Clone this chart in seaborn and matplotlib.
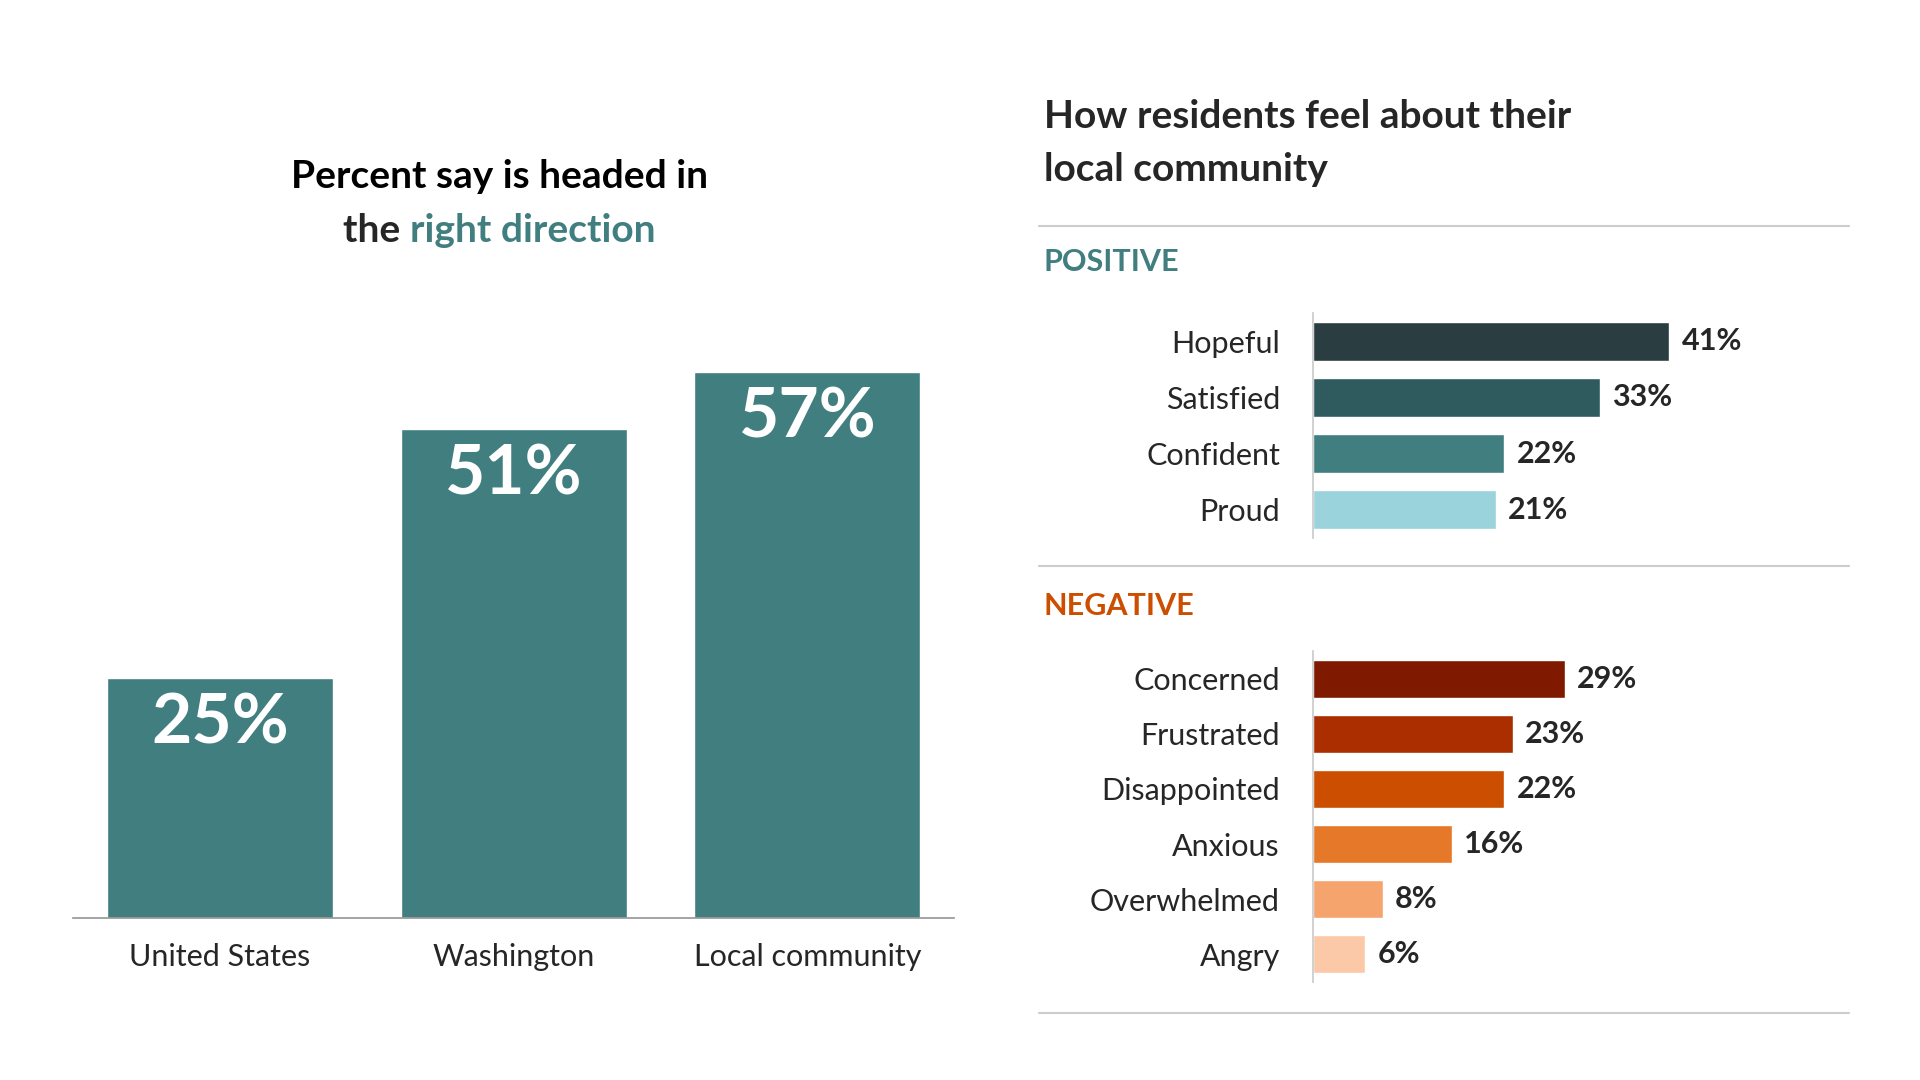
import matplotlib
matplotlib.use("Agg")
import matplotlib.pyplot as plt
import seaborn as sns

left_cats = ["United States", "Washington", "Local community"]
left_vals = [25, 51, 57]

pos_cats = ["Hopeful", "Satisfied", "Confident", "Proud"]
pos_vals = [41, 33, 22, 21]
pos_cols = ["#2a3d41", "#2f5b5f", "#417e80", "#9ad3db"]

neg_cats = ["Concerned", "Frustrated", "Disappointed", "Anxious", "Overwhelmed", "Angry"]
neg_vals = [29, 23, 22, 16, 8, 6]
neg_cols = ["#7f1a00", "#aa2e00", "#cc4e00", "#e6782a", "#f6a46e", "#fbc9a8"]

sns.set_theme(style="white")
plt.rcParams['font.family'] = ['Lato', 'DejaVu Sans']
TEAL = "#417e80"

fig = plt.figure(figsize=(19.2, 10.8), dpi=100)

# left chart
ax = fig.add_axes([0.038, 0.15, 0.459, 0.55])
sns.barplot(x=left_cats, y=left_vals, color=TEAL, width=0.77, saturation=1, ax=ax)
ax.set_ylim(0, 62)
ax.set_xlim(-0.5, 2.5)
for i, v in enumerate(left_vals):
    ax.text(i, v - 1.5, f"{v}%", ha="center", va="top", color="white",
            fontsize=50, fontweight="bold")
for s in ["top", "right", "left"]:
    ax.spines[s].set_visible(False)
ax.spines["bottom"].set_color("#999999")
ax.set_yticks([])
ax.tick_params(axis="x", labelsize=22, pad=18, length=0)

fig.text(0.26, 0.837, "Percent say is headed in", ha="center", va="center",
         fontsize=28, fontweight="bold", color="black")
t1 = fig.text(0.26, 0.787, "the ", ha="left", va="center", fontsize=28, fontweight="bold")
t2 = fig.text(0.26, 0.787, "right direction", ha="left", va="center", fontsize=28,
              fontweight="bold", color=TEAL)
fig.canvas.draw()
r = fig.canvas.get_renderer()
w1 = t1.get_window_extent(r).width / fig.bbox.width
w2 = t2.get_window_extent(r).width / fig.bbox.width
x0 = 0.26 - (w1 + w2) / 2
t1.set_x(x0)
t2.set_x(x0 + w1)

# right charts
def hbars(rect, cats, vals, cols, n):
    a = fig.add_axes(rect)
    sns.barplot(x=vals, y=cats, hue=cats, palette=cols, legend=False, width=0.7,
                saturation=1, orient="h", ax=a)
    a.set_xlim(0, 61)
    a.set_ylim(n - 0.5, -0.5)
    for i, v in enumerate(vals):
        a.text(v + 1.4, i, f"{v}%", va="center", ha="left", fontsize=22, fontweight="bold")
    for s in ["top", "right", "bottom"]:
        a.spines[s].set_visible(False)
    a.spines["left"].set_color("#cccccc")
    a.set_xticks([])
    a.set_xlabel("")
    a.set_ylabel("")
    a.tick_params(axis="y", labelsize=22, pad=24, length=0)
    return a

hbars([0.684, 0.502, 0.276, 0.208], pos_cats, pos_vals, pos_cols, 4)
hbars([0.684, 0.091, 0.276, 0.306], neg_cats, neg_vals, neg_cols, 6)

fig.text(0.5436, 0.892, "How residents feel about their", ha="left", va="center",
         fontsize=28, fontweight="bold")
fig.text(0.5436, 0.843, "local community", ha="left", va="center",
         fontsize=28, fontweight="bold")
fig.text(0.5436, 0.757, "POSITIVE", ha="left", va="center", fontsize=22,
         fontweight="bold", color=TEAL)
fig.text(0.5436, 0.439, "NEGATIVE", ha="left", va="center", fontsize=22,
         fontweight="bold", color="#cc4e00")
for y in [0.791, 0.476, 0.0625]:
    fig.add_artist(plt.Line2D([0.541, 0.963], [y, y], color="#cccccc", lw=1.5))

fig.savefig("out.png", dpi=100)
